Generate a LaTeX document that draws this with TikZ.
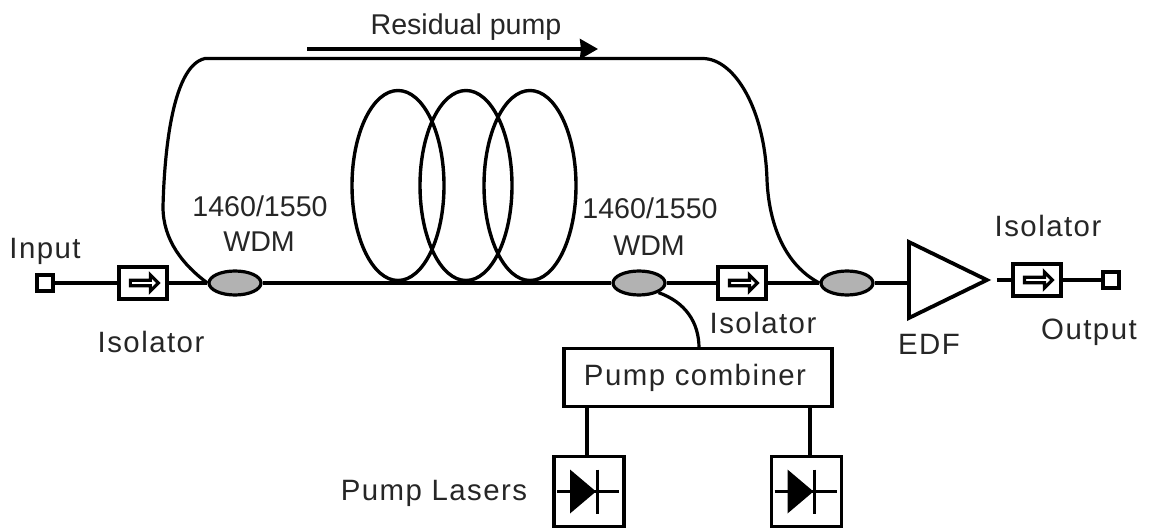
\documentclass[tikz,border=0pt]{standalone}
\usepackage{fontspec}
\setmainfont[LetterSpace=5]{Liberation Sans}
\newfontfamily\tightfont{Liberation Sans}
\usepackage{tikz}
\usetikzlibrary{arrows,arrows.meta,backgrounds,shapes}
\tikzstyle{port}	=[rectangle,draw=black,fill=white,line width=1.9pt,minimum size=8pt,inner sep=0pt]
\tikzstyle{isobox}	=[rectangle,draw=black,fill=white,line width=1.7pt,minimum width=24pt,minimum height=16pt,inner sep=0pt]
\tikzstyle{isoarrow}	=[single arrow,draw=black,fill=white,line width=1.6pt,minimum width=8pt,minimum height=14pt,single arrow head extend=1.5pt,inner sep=0pt]
\tikzstyle{wdm}		=[ellipse,draw=black,fill=black!30,line width=1.6pt,minimum width=26pt,minimum height=12pt,inner sep=0pt]
\tikzstyle{combiner}	=[rectangle,draw=black,fill=white,line width=1.7pt,minimum width=134pt,minimum height=29pt,inner sep=0pt]
\tikzstyle{laser}	=[rectangle,draw=black,fill=white,line width=1.9pt,minimum size=35pt,inner sep=0pt]
\tikzstyle{edf}		=[isosceles triangle,isosceles triangle stretches,draw=black,fill=white,line width=1.9pt,minimum width=38pt,minimum height=39pt,inner sep=0pt]
\tikzstyle{com2}	=[inner sep=0pt,font=\fontsize{14.7}{18}\selectfont,text=black!85]
\tikzstyle{com3}	=[inner sep=0pt,font=\tightfont\fontsize{14.3}{17}\selectfont,text=black!85]
\tikzstyle{edge1}	=[draw,line width=1.6pt,-]
\tikzstyle{coil}	=[draw,line width=1.7pt]
\begin{document}
\begin{tikzpicture}[x=0.5pt,y=-0.5pt]
	\useasboundingbox (0,0) rectangle (1151,529);

	%%%%% fibre coils
	\foreach \x in {398,466,530}
	\draw[coil] (\x,185.5) ellipse (46 and 95);

	%%%%% components on the line
	\foreach \pos/\name in {{(45,283)/pin}, {(1111,280)/pout}}
	\node[port] (\name) at \pos {};

	\foreach \pos/\name in {{(143,283)/iso1}, {(742,283)/iso2}, {(1037,280)/iso3}}
	\node[isobox] (\name) at \pos {};

	\foreach \pos/\name in {{(235,283)/wdm1}, {(639,283)/wdm2}, {(847,283)/wdm3}}
	\node[wdm] (\name) at \pos {};

	\node[edf,anchor=lower side] (amp) at (907,280) {};
	\node[combiner] (comb) at (698,377.5) {};
	\node[laser] (las1) at (589,491.5) {};
	\node[laser] (las2) at (806.5,491.5) {};

	%%%%% free ends
	\coordinate (cin) at (699,348);
	\coordinate (c1) at (587,407);
	\coordinate (l1) at (587,457);
	\coordinate (c2) at (810,407);
	\coordinate (l2) at (810,457);
	\coordinate (rpa) at (307,49);
	\coordinate (rpb) at (598,49);

	%%%%% line
	\begin{scope}[on background layer]
	\fill[white] (0,0) rectangle (1151,529);
	\foreach \source/ \dest in {pin/iso1,iso1/wdm1,wdm1/wdm2,wdm2/iso2,iso2/wdm3} \path[edge1] (\source) -- (\dest);
	\path[edge1] (wdm3) -- (amp.lower side |- wdm3);
	\path[edge1] (iso3) -- (pout);
	\end{scope}
	\path[edge1,shorten <=2.5pt] (amp.apex) -- (iso3);

	%%%% arrows in the isolators
	\foreach \name/\arr in {iso1/ar1,iso2/ar2,iso3/ar3}
	\node[isoarrow] (\arr) at (\name) {};

	%%%% residual pump loop
	\path[edge1] (wdm1.west) .. controls (183,265) and (163,240) .. (163,207)
		.. controls (164,165) and (170,66) .. (205,58.5)
		-- (703,58.5)
		.. controls (735,59) and (765,110) .. (767,180)
		.. controls (769,225) and (785,265) .. (wdm3.west);

	%%%% pump
	\path[edge1] (wdm2.south east) .. controls (685,302) and (699,322) .. (cin);
	\foreach \source/ \dest in {c1/l1,c2/l2} \path[edge1] (\source) -- (\dest);
	\path[draw,line width=1.7pt,-{Stealth[length=9pt,width=10pt,inset=0.5pt]}] (rpa) -- (rpb);

	%%%% diodes
	\foreach \name in {las1,las2} {
		\draw[line width=1.5pt] ([xshift=-16pt]\name.center) -- ([xshift=15pt]\name.center);
		\fill ([xshift=-9.5pt,yshift=11pt]\name.center) -- ([xshift=3.5pt]\name.center) -- ([xshift=-9.5pt,yshift=-11pt]\name.center) -- cycle;
		\draw[line width=1.5pt] ([xshift=4pt,yshift=11pt]\name.center) -- ([xshift=4pt,yshift=-11pt]\name.center);
	}

	%%%% labels
	\foreach \pos/\name/\txt in {{(45,251)/lin/Input}, {(151,342)/lis1/Isolator},
		{(763,323)/lis2/Isolator}, {(1048,226)/lis3/Isolator}, {(929,344)/ledf/EDF}, {(1089,332)/lout/Output},
		{(695,378)/lcomb/Pump combiner}, {(434,493)/llas/Pump Lasers}}
	\node[com2] (\name) at \pos {\txt};
	\node[com3] (lres) at (466,27) {Residual pump};
	\node[com3] (lw1a) at (260,206) {1460/1550};
	\node[com3] (lw1b) at (259,242) {WDM};
	\node[com3] (lw2a) at (650,208) {1460/1550};
	\node[com3] (lw2b) at (649,246) {WDM};
\end{tikzpicture}
\end{document}
